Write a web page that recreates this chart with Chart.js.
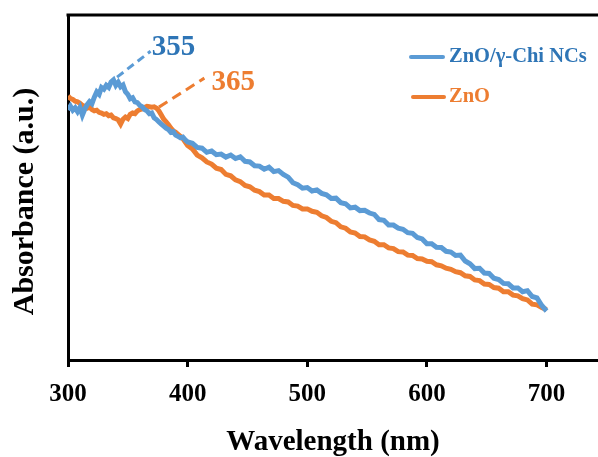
<!DOCTYPE html>
<html>
<head>
<meta charset="utf-8">
<script src="https://cdn.jsdelivr.net/npm/chart.js@4/dist/chart.umd.min.js"></script>
<style>
  html, body { margin: 0; padding: 0; background: #fff; }
  #wrap { width: 598px; height: 457px; }
</style>
</head>
<body>
<div id="wrap"><canvas id="uvChart" width="598" height="457"></canvas></div>
<script>
// ===== 数据 =====
const wavelengths = [
  300, 302, 304, 306, 308, 310, 312, 314, 316, 318, 320, 322, 324, 326, 328, 330, 332, 334, 336, 338,
  340, 342, 344, 346, 348, 350, 352, 354, 356, 358, 360, 362, 364, 366, 368, 370, 372, 374, 376, 378,
  380, 382, 384, 386, 388, 390, 392, 394, 396, 398, 400,
  404, 408, 412, 416, 420, 424, 428, 432, 436, 440, 444, 448, 452, 456, 460, 464, 468, 472, 476, 480,
  484, 488, 492, 496, 500, 504, 508, 512, 516, 520, 524, 528, 532, 536, 540, 544, 548, 552, 556, 560,
  564, 568, 572, 576, 580, 584, 588, 592, 596, 600, 604, 608, 612, 616, 620, 624, 628, 632, 636, 640,
  644, 648, 652, 656, 660, 664, 668, 672, 676, 680, 684, 688, 692, 696, 700
];

const chiNCs = [
  0.725, 0.736, 0.724, 0.731, 0.720, 0.732, 0.710, 0.727, 0.740, 0.749, 0.743, 0.762, 0.777, 0.770, 0.790, 0.785, 0.796, 0.790, 0.806, 0.812,
  0.796, 0.805, 0.792, 0.797, 0.778, 0.770, 0.757, 0.760, 0.748, 0.746, 0.738, 0.734, 0.726, 0.722, 0.714, 0.716, 0.702, 0.697, 0.690, 0.684,
  0.678, 0.672, 0.668, 0.660, 0.662, 0.652, 0.648, 0.644, 0.646, 0.638, 0.632,
  0.628, 0.616, 0.614, 0.602, 0.606, 0.595, 0.597, 0.588, 0.594, 0.584, 0.589, 0.576, 0.574, 0.563, 0.562, 0.553, 0.559, 0.546, 0.549, 0.538,
  0.530, 0.514, 0.508, 0.498, 0.500, 0.490, 0.493, 0.483, 0.479, 0.468, 0.469, 0.456, 0.453, 0.441, 0.443, 0.433, 0.434, 0.426, 0.422, 0.407,
  0.405, 0.391, 0.391, 0.382, 0.379, 0.369, 0.367, 0.355, 0.351, 0.337, 0.337, 0.327, 0.326, 0.315, 0.313, 0.303, 0.304, 0.287, 0.279, 0.265,
  0.266, 0.252, 0.251, 0.237, 0.233, 0.222, 0.221, 0.209, 0.209, 0.198, 0.201, 0.184, 0.180, 0.158, 0.142
];

const znO = [
  0.765, 0.758, 0.755, 0.750, 0.748, 0.744, 0.738, 0.735, 0.730, 0.733, 0.726, 0.722, 0.724, 0.718, 0.716, 0.712, 0.714, 0.708, 0.710, 0.702,
  0.700, 0.696, 0.684, 0.698, 0.704, 0.700, 0.712, 0.716, 0.714, 0.722, 0.726, 0.728, 0.732, 0.735, 0.734, 0.733, 0.734, 0.730, 0.722, 0.710,
  0.698, 0.690, 0.682, 0.672, 0.664, 0.660, 0.654, 0.648, 0.642, 0.632, 0.622,
  0.612, 0.594, 0.586, 0.574, 0.568, 0.556, 0.552, 0.538, 0.534, 0.522, 0.517, 0.506, 0.502, 0.492, 0.488, 0.478, 0.478, 0.468, 0.468, 0.460,
  0.458, 0.448, 0.446, 0.438, 0.438, 0.431, 0.428, 0.418, 0.413, 0.402, 0.398, 0.386, 0.382, 0.371, 0.368, 0.358, 0.357, 0.348, 0.344, 0.334,
  0.334, 0.325, 0.323, 0.314, 0.313, 0.304, 0.303, 0.294, 0.293, 0.286, 0.285, 0.276, 0.273, 0.266, 0.263, 0.256, 0.253, 0.244, 0.242, 0.232,
  0.230, 0.220, 0.219, 0.210, 0.208, 0.198, 0.198, 0.188, 0.186, 0.178, 0.174, 0.162, 0.160, 0.152, 0.146
];

const seriesNames = ['ZnO/γ-Chi NCs', 'ZnO'];
const peakLabels = ['355', '365'];
const xTickStep = 100;

// ===== 样式 =====
const BLUE = '#5B9BD5';
const BLUE_TEXT = '#2E75B6';
const ORANGE = '#ED7D31';
const SERIF = "'Times New Roman', 'Liberation Serif', serif";

// 峰值标注（数据坐标）
const peakNotes = [
  { text: peakLabels[0], color: BLUE_TEXT, lineColor: BLUE, dash: [8, 5], from: [341, 0.820], to: [369, 0.895], at: [370, 0.884] },
  { text: peakLabels[1], color: ORANGE, lineColor: ORANGE, dash: [10, 6], from: [376, 0.733], to: [414, 0.817], at: [420, 0.783] }
];

const framePlugin = {
  id: 'frame',
  afterDraw(chart) {
    const { ctx, chartArea } = chart;
    ctx.save();
    ctx.strokeStyle = '#000';
    ctx.lineWidth = 3;
    ctx.beginPath();
    ctx.moveTo(chartArea.left - 1.5, chartArea.top);
    ctx.lineTo(chartArea.right, chartArea.top);
    ctx.stroke();
    ctx.restore();
  }
};

const notesPlugin = {
  id: 'notes',
  afterDatasetsDraw(chart) {
    const { ctx, scales } = chart;
    const px = v => scales.x.getPixelForValue(v);
    const py = v => scales.y.getPixelForValue(v);
    ctx.save();
    peakNotes.forEach(n => {
      ctx.strokeStyle = n.lineColor;
      ctx.lineWidth = 3;
      ctx.setLineDash(n.dash);
      ctx.beginPath();
      ctx.moveTo(px(n.from[0]), py(n.from[1]));
      ctx.lineTo(px(n.to[0]), py(n.to[1]));
      ctx.stroke();
      ctx.setLineDash([]);
      ctx.fillStyle = n.color;
      ctx.font = 'bold 29px ' + SERIF;
      ctx.textAlign = 'left';
      ctx.textBaseline = 'alphabetic';
      ctx.fillText(n.text, px(n.at[0]), py(n.at[1]));
    });

    // 图例
    const items = [
      { name: seriesNames[0], line: BLUE, text: BLUE_TEXT, x0: 411, x1: 443, y: 57 },
      { name: seriesNames[1], line: ORANGE, text: ORANGE, x0: 413, x1: 444, y: 97 }
    ];
    items.forEach(it => {
      ctx.strokeStyle = it.line;
      ctx.lineWidth = 4;
      ctx.lineCap = 'round';
      ctx.beginPath();
      ctx.moveTo(it.x0, it.y);
      ctx.lineTo(it.x1, it.y);
      ctx.stroke();
      ctx.fillStyle = it.text;
      ctx.font = 'bold 20.5px ' + SERIF;
      ctx.textBaseline = 'middle';
      ctx.fillText(it.name, 449, it.y);
    });
    ctx.restore();
  }
};

const yTitlePlugin = {
  id: 'yTitle',
  afterDraw(chart) {
    const { ctx, chartArea } = chart;
    ctx.save();
    ctx.translate(25, (chartArea.top + chartArea.bottom) / 2 + 14);
    ctx.rotate(-Math.PI / 2);
    ctx.fillStyle = '#000';
    ctx.font = 'bold 30px ' + SERIF;
    ctx.textAlign = 'center';
    ctx.textBaseline = 'middle';
    ctx.fillText('Absorbance (a.u.)', 0, 0);
    ctx.restore();
  }
};

new Chart(document.getElementById('uvChart'), {
  type: 'line',
  data: {
    labels: wavelengths,
    datasets: [
      {
        label: seriesNames[0],
        data: chiNCs,
        borderColor: BLUE,
        borderWidth: 5,
        pointRadius: 0,
        tension: 0
      },
      {
        label: seriesNames[1],
        data: znO,
        borderColor: ORANGE,
        borderWidth: 5,
        pointRadius: 0,
        tension: 0
      }
    ]
  },
  options: {
    responsive: false,
    animation: false,
    events: [],
    layout: { padding: { left: 68, top: 15, right: 0, bottom: 0 } },
    plugins: {
      legend: { display: false },
      tooltip: { enabled: false }
    },
    scales: {
      x: {
        type: 'linear',
        min: 300,
        max: 743,
        border: { display: true, color: '#000', width: 3 },
        grid: { display: true, drawOnChartArea: false, drawTicks: true, tickLength: 7, lineWidth: 3, color: '#000' },
        ticks: {
          stepSize: xTickStep,
          includeBounds: false,
          autoSkip: false,
          maxRotation: 0,
          padding: 13,
          color: '#000',
          font: { family: SERIF, size: 25, weight: 'bold', lineHeight: 1.2 }
        },
        title: {
          display: true,
          text: 'Wavelength (nm)',
          color: '#000',
          padding: { top: 5, bottom: 0 },
          font: { family: SERIF, size: 29, weight: 'bold', lineHeight: 1 }
        }
      },
      y: {
        min: 0,
        max: 1,
        border: { display: true, color: '#000', width: 3 },
        grid: { display: false, drawTicks: false },
        ticks: { display: false }
      }
    }
  },
  plugins: [framePlugin, notesPlugin, yTitlePlugin]
});
</script>
</body>
</html>
